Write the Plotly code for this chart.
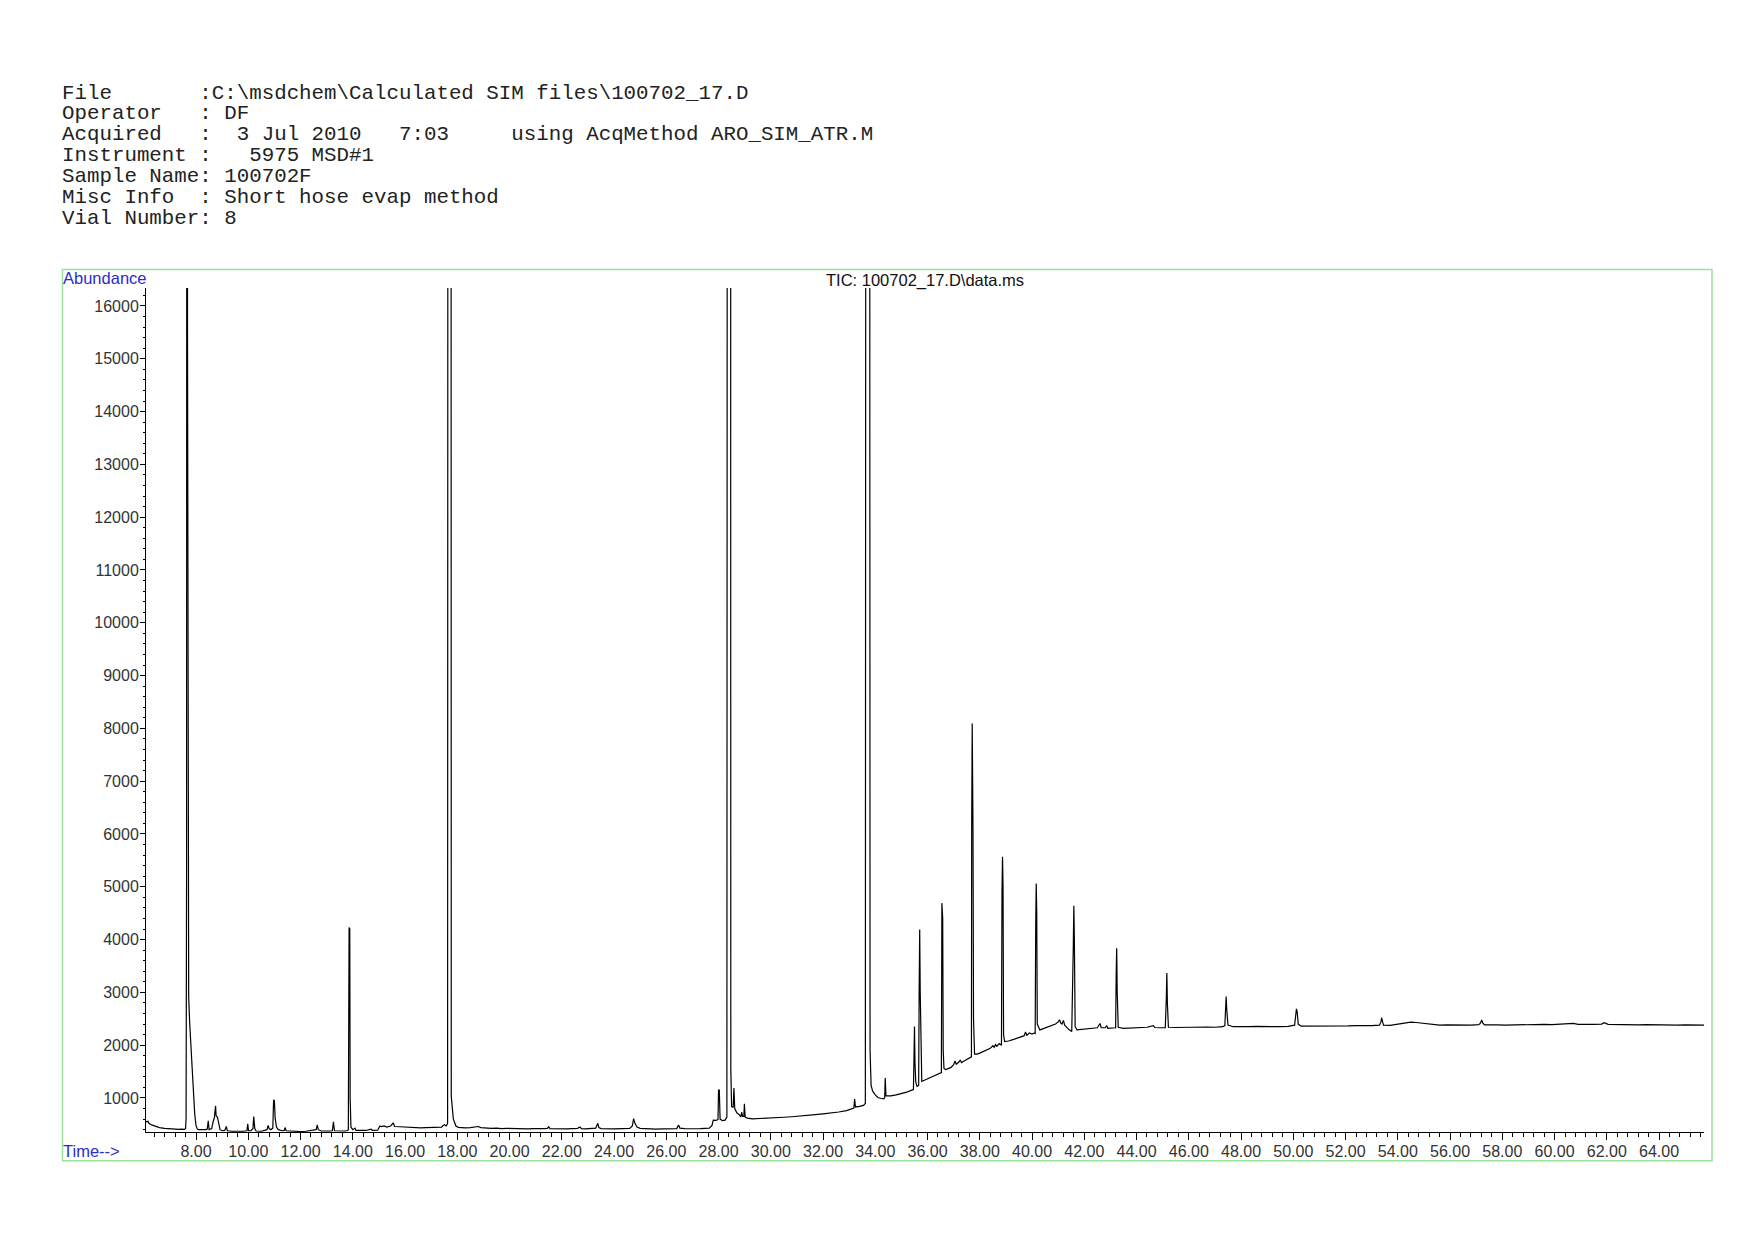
import plotly.graph_objects as go

# ---------------- data ----------------
header_lines = [
    "File       :C:\\msdchem\\Calculated SIM files\\100702_17.D",
    "Operator   : DF",
    "Acquired   :  3 Jul 2010   7:03     using AcqMethod ARO_SIM_ATR.M",
    "Instrument :   5975 MSD#1",
    "Sample Name: 100702F",
    "Misc Info  : Short hose evap method",
    "Vial Number: 8",
]
chart_title = "TIC: 100702_17.D\\data.ms"
y_label = "Abundance"
x_label = "Time-->"

# retention time (min) of each vertex of the TIC trace
rt_min = [
    6.09, 6.12, 6.16, 6.2, 6.3, 6.4, 6.5, 6.6, 6.8, 7.0, 7.2, 7.35, 7.45, 7.55, 7.6,
    7.62, 7.64, 7.66, 7.675, 7.69, 7.71, 7.72, 7.76, 7.8, 7.85, 7.9, 7.95, 8.0, 8.05,
    8.1, 8.2, 8.3, 8.38, 8.43, 8.47, 8.5, 8.6, 8.66, 8.7, 8.75, 8.77, 8.82, 8.86, 8.92,
    9.0, 9.1, 9.16, 9.2, 9.4, 9.6, 9.8, 9.95, 9.98, 10.01, 10.1, 10.18, 10.21, 10.25,
    10.3, 10.5, 10.6, 10.72, 10.76, 10.8, 10.86, 10.94, 10.97, 11.0, 11.03, 11.08,
    11.15, 11.3, 11.38, 11.41, 11.45, 11.6, 11.8, 12.0, 12.2, 12.4, 12.5, 12.6, 12.64,
    12.68, 12.8, 13.0, 13.15, 13.22, 13.26, 13.3, 13.5, 13.7, 13.8,
    13.83, 13.86, 13.885, 13.9, 13.93, 14.0, 14.09, 14.12, 14.3, 14.5, 14.7, 14.75,
    14.95, 15.04, 15.1, 15.2, 15.3, 15.45, 15.55, 15.6, 15.8, 16.0, 16.2, 16.4, 16.6,
    16.8, 17.0, 17.2, 17.4, 17.5, 17.58, 17.63,
    17.66, 17.75, 17.77, 17.85, 17.95, 18.04,
    18.1, 18.3, 18.5, 18.7, 18.8, 18.9, 19.1, 19.3, 19.5, 19.7, 19.9, 20.1, 20.3, 20.5,
    20.7, 20.9, 21.1, 21.3, 21.45, 21.5, 21.55, 21.8, 22.0, 22.2, 22.4, 22.6, 22.7,
    22.75, 22.9, 23.1, 23.3, 23.38, 23.42, 23.5, 23.7, 24.0, 24.3, 24.6, 24.7, 24.75,
    24.8, 24.88, 25.0, 25.3, 25.6, 25.9, 26.2, 26.4, 26.47, 26.52, 26.7, 26.9, 27.1,
    27.3, 27.5, 27.65, 27.75, 27.8, 27.9, 27.98, 28.0, 28.03, 28.06, 28.15, 28.25, 28.32,
    28.36, 28.45, 28.47, 28.5, 28.56, 28.59, 28.62, 28.7, 28.8, 28.85, 28.89, 28.92,
    28.97, 28.99, 29.02, 29.1,
    29.3, 29.6, 29.9, 30.2, 30.5, 30.8, 31.1, 31.4, 31.7, 32.0, 32.3, 32.6, 32.9, 33.1,
    33.18, 33.21, 33.24, 33.4, 33.55, 33.62,
    33.67, 33.76, 33.8, 33.84, 33.9, 34.0, 34.1, 34.2, 34.33, 34.36, 34.38, 34.41,
    34.5, 34.6, 34.8, 35.0, 35.2, 35.4, 35.46,
    35.48, 35.5, 35.52, 35.55, 35.6, 35.66, 35.68, 35.7, 35.72, 35.75, 35.78, 35.9,
    36.0, 36.2, 36.4, 36.5, 36.53, 36.55, 36.58, 36.6, 36.63, 36.7, 36.8, 36.9, 37.0,
    37.05, 37.1, 37.2, 37.25, 37.3, 37.4, 37.5, 37.62, 37.68,
    37.69, 37.71, 37.74, 37.76, 37.8, 37.9, 38.0, 38.2, 38.4, 38.5, 38.55, 38.6, 38.65,
    38.75, 38.83,
    38.85, 38.87, 38.89, 38.91, 38.95, 39.1, 39.3, 39.5, 39.7, 39.75, 39.8, 39.9, 40.0,
    40.08, 40.12,
    40.14, 40.16, 40.18, 40.2, 40.3, 40.45, 40.6, 40.75, 40.9, 41.0, 41.05, 41.1, 41.15,
    41.2, 41.25, 41.4, 41.52,
    41.58, 41.6, 41.62, 41.65, 41.72, 41.9, 42.1, 42.3, 42.5, 42.6, 42.65, 42.8, 42.86,
    42.9, 43.1, 43.2,
    43.22, 43.24, 43.26, 43.3, 43.5, 43.8, 44.1, 44.4, 44.64, 44.7, 44.9, 45.1,
    45.14, 45.16, 45.18, 45.22, 45.5, 45.8, 46.1, 46.4, 46.7, 47.0, 47.3, 47.38,
    47.41, 47.43, 47.45, 47.5, 47.7, 48.0, 48.3, 48.6, 48.9, 49.2, 49.5, 49.8, 50.05,
    50.1, 50.12, 50.15, 50.19, 50.3, 50.6, 50.9, 51.2, 51.5, 51.8, 52.1, 52.4, 52.7,
    53.0, 53.3,
    53.36, 53.38, 53.41, 53.45, 53.7, 53.9, 54.1, 54.3, 54.5, 54.7, 54.9, 55.1, 55.3,
    55.6, 55.9, 56.2, 56.5, 56.8, 57.1, 57.17, 57.21, 57.25, 57.32, 57.5, 57.8, 58.1,
    58.4, 58.7, 59.0, 59.3, 59.6, 59.9, 60.2, 60.5, 60.72, 60.9, 61.2, 61.5, 61.8, 61.9,
    62.05, 62.3, 62.6, 62.9, 63.2, 63.5, 63.8, 64.1, 64.4, 64.7, 65.0, 65.3, 65.72,
]

# abundance at each vertex (values above the axis top are clipped peaks)
abundance = [
    560, 545, 560, 520, 490, 470, 455, 440, 425, 415, 410, 405, 412, 405, 420,
    600, 5400, 60000, 15600, 10300, 10300, 2900, 2400, 2000, 1450, 1000, 700, 480, 410,
    400, 395, 390, 400, 410, 570, 400, 420, 560, 620, 850, 660, 640, 560, 400,
    380, 385, 460, 380, 370, 365, 370, 380, 510, 380, 380, 420, 650, 420,
    375, 370, 390, 400, 480, 420, 400, 430, 965, 950, 620, 450,
    400, 380, 385, 440, 380, 375, 370, 365, 370, 380, 385, 400, 490,
    400, 375, 370, 375, 380, 550, 380, 375, 375, 385,
    400, 4230, 4200, 1000, 450, 400, 430, 385, 380, 385, 410, 385,
    390, 470, 460, 470, 450, 470, 530, 460, 455, 450, 440, 440, 435,
    440, 440, 445, 450, 495, 470, 520,
    60000, 60000, 1030, 600, 470, 445,
    440, 435, 440, 445, 460, 440, 430, 425, 430, 420, 425, 420, 415, 420,
    415, 420, 415, 420, 425, 455, 420, 415, 420, 415, 420, 425, 450,
    420, 415, 420, 430, 520, 440, 420, 415, 415, 420, 425, 470, 610,
    520, 450, 425, 415, 410, 415, 410, 420, 490, 430, 420, 415, 418,
    420, 425, 430, 480, 580, 575, 590, 1150, 1150, 600, 570, 580, 640,
    60000, 60000, 1570, 840, 820, 1190, 800, 720, 680, 640, 730, 650,
    650, 890, 640, 620,
    605, 610, 615, 625, 635, 645, 655, 670, 685, 700, 715, 735, 760, 800,
    810, 980, 830, 840, 860, 900,
    60000, 60000, 1910, 1240, 1130, 1060, 1010, 995, 985, 1010, 1380, 1040,
    1040, 1040, 1060, 1085, 1110, 1150, 1160,
    1700, 2355, 1660, 1300, 1220, 1240, 3060, 4190, 3000, 1500, 1315, 1340,
    1360, 1400, 1440, 1460, 1480, 4690, 4400, 1900, 1560, 1540, 1560, 1580, 1630,
    1700, 1640, 1680, 1720, 1670, 1700, 1730, 1760, 1780,
    6160, 8090, 6100, 2500, 1830, 1830, 1850, 1890, 1940, 1990, 1960, 2010, 1980,
    2030, 2000,
    4900, 5570, 5000, 2200, 2070, 2080, 2110, 2150, 2180, 2250, 2190, 2230, 2210,
    2230, 2220,
    4200, 5060, 4500, 2400, 2290, 2320, 2350, 2370, 2400, 2440, 2480, 2420, 2400,
    2470, 2380, 2300, 2260,
    3900, 4640, 4000, 2350, 2290, 2300, 2310, 2315, 2330, 2410, 2330, 2330, 2370,
    2320, 2320, 2330,
    3300, 3834, 3000, 2340, 2320, 2325, 2330, 2340, 2370, 2335, 2330, 2330,
    2900, 3366, 2800, 2340, 2335, 2340, 2335, 2340, 2345, 2340, 2350, 2370,
    2700, 2923, 2700, 2380, 2350, 2345, 2350, 2355, 2350, 2355, 2350, 2355, 2380,
    2600, 2690, 2620, 2400, 2360, 2360, 2355, 2360, 2365, 2360, 2365, 2370, 2365,
    2370, 2380,
    2450, 2520, 2440, 2380, 2375, 2390, 2410, 2425, 2435, 2430, 2420, 2400, 2390,
    2380, 2385, 2380, 2385, 2380, 2390, 2420, 2476, 2420, 2385, 2380, 2385, 2380,
    2385, 2390, 2385, 2390, 2395, 2390, 2395, 2400, 2412, 2395, 2390, 2395, 2400, 2425,
    2395, 2390, 2385, 2390, 2385, 2390, 2385, 2380, 2385, 2380, 2385, 2380, 2381,
]

x_range = [6.086, 65.72]
y_range = [356, 16340]

# ---------------- layout geometry (pixels) ----------------
# the page body has an 8 px margin, so figure coords = page coords - 8
OFF = 8
W, H = 1754 - 2 * OFF, 1240 - 2 * OFF
L, R, T, B = 146 - OFF, 1704 - OFF, 288 - OFF, 1132.3 - OFF
pw, ph = R - L, B - T


def px(x):
    return (x - OFF - L) / pw


def py(y):
    return (B - (y - OFF)) / ph


fig = go.Figure()
fig.add_trace(go.Scatter(
    x=rt_min, y=abundance, mode="lines",
    line=dict(color="black", width=1.2), hoverinfo="x+y", showlegend=False,
))

tick_font = dict(family="Liberation Sans, Arial, sans-serif", size=16, color="#333333")
label_font = dict(family="Liberation Sans, Arial, sans-serif", size=16.5, color="#2b2bd6")
mono_font = dict(family="Liberation Mono, Courier New, monospace", size=20.8, color="#222222")

annotations = []
line_y = [93, 113.9, 134.8, 155.7, 176.6, 197.5, 218.4]
for text, yy in zip(header_lines, line_y):
    annotations.append(dict(
        text=text.replace(" ", "\u00a0"), xref="paper", yref="paper",
        x=px(59.5), y=py(yy), xanchor="left", yanchor="middle",
        showarrow=False, font=mono_font,
    ))
annotations.append(dict(text=chart_title, xref="paper", yref="paper",
                        x=px(924.7), y=py(280), xanchor="center", yanchor="middle",
                        showarrow=False, font=dict(family="Liberation Sans, Arial, sans-serif",
                                                   size=16.5, color="#111111")))
annotations.append(dict(text=y_label, xref="paper", yref="paper",
                        x=px(61), y=py(278), xanchor="left", yanchor="middle",
                        showarrow=False, font=label_font))
annotations.append(dict(text=x_label, xref="paper", yref="paper",
                        x=px(61), y=py(1151), xanchor="left", yanchor="middle",
                        showarrow=False, font=label_font))

shapes = [dict(type="rect", xref="paper", yref="paper",
               x0=px(62.5), x1=px(1712), y0=py(1161), y1=py(269.5),
               line=dict(color="#9be39b", width=1.5), fillcolor="rgba(0,0,0,0)",
               layer="below")]

fig.update_layout(
    width=W, height=H,
    margin=dict(l=L, r=W - R, t=T, b=H - B, pad=0),
    paper_bgcolor="white", plot_bgcolor="white",
    annotations=annotations, shapes=shapes,
    xaxis=dict(
        range=x_range, showgrid=False, zeroline=False,
        showline=True, linecolor="black", linewidth=1,
        ticks="outside", ticklen=7, tickwidth=1, tickcolor="black",
        tick0=0, dtick=2, tickformat=".2f", tickfont=tick_font,
        ticklabelstandoff=-2,
        minor=dict(dtick=0.4, tick0=0, ticks="outside", ticklen=4,
                   tickwidth=1, tickcolor="black", showgrid=False),
    ),
    yaxis=dict(
        range=y_range, showgrid=False, zeroline=False,
        showline=True, linecolor="black", linewidth=1,
        ticks="outside", ticklen=5, tickwidth=1, tickcolor="black",
        tick0=0, dtick=1000, tickformat="d", tickfont=tick_font,
        ticklabelstandoff=-2,
        minor=dict(dtick=200, tick0=0, ticks="outside", ticklen=2,
                   tickwidth=1, tickcolor="black", showgrid=False),
    ),
)

fig.write_html("out.html")
